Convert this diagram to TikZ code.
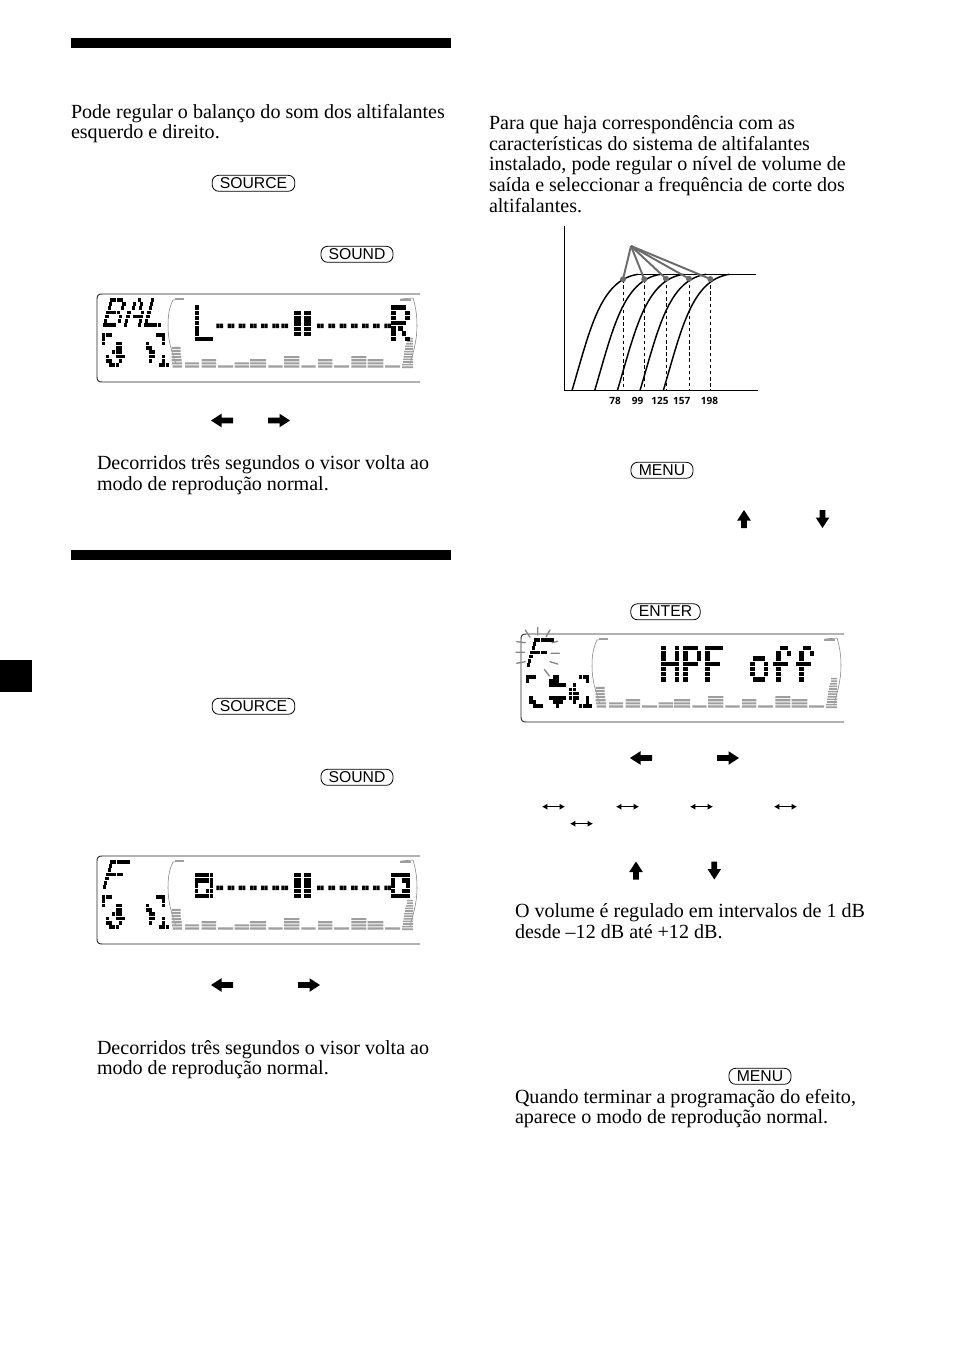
\documentclass[tikz,border=0pt]{standalone}
\usepackage{fontspec}
\setmainfont{Liberation Serif}
\newfontfamily\btnfont{Liberation Sans}
\newfontfamily\chartfont{Open Sans}
\usetikzlibrary{arrows.meta}
\definecolor{lcdgray}{gray}{0.62}
\definecolor{raygray}{gray}{0.42}
\tikzset{
  txt/.style={anchor=base west,inner sep=0pt,outer sep=0pt,font=\fontsize{15.05}{18}\selectfont},
  btn/.style={draw,line width=0.6pt,rounded corners=5pt,inner sep=0pt,minimum height=12pt,text height=7.5pt,text depth=0pt,font=\btnfont\fontsize{11.8}{12}\selectfont},
  tickl/.style={inner sep=0pt,font=\chartfont\bfseries\fontsize{7.5}{8}\selectfont},
  framepath/.style={line width=0.7pt,draw=black!85},
  lcdinner/.style={line width=0.4pt,draw=lcdgray!80!black},
  rayline/.style={line width=1pt,draw=lcdgray!85!black,line cap=round},
  curveline/.style={line width=1.1pt,draw=black},
  fanline/.style={line width=1.45pt,draw=raygray},
  dashline/.style={line width=0.55pt,draw=black,dash pattern=on 2.6pt off 2pt},
}
% bitmap: x y px py slant {rows}
\newcount\bmpcol
\newcount\bmprowno
\def\bmpWf{0.96}
\def\bmpscan#1{\ifx#1.\else\ifx#11\fill ({\bmpX+\the\bmpcol*\bmpPx+(\bmpN-\the\bmprowno)*\bmpPy*\bmpS},{\bmpY+\the\bmprowno*\bmpPy}) rectangle +({\bmpPx*\bmpWf},{\bmpPy*0.86});\fi\global\advance\bmpcol by 1 \expandafter\bmpscan\fi}
\newcommand\bmp[7]{\def\bmpX{#1}\def\bmpY{#2}\def\bmpPx{#3}\def\bmpPy{#4}\def\bmpS{#5}\def\bmpN{#6}%
  \global\bmprowno=0
  \foreach \rw in {#7}{\global\bmpcol=0 \expandafter\bmpscan\rw.\global\advance\bmprowno by 1 }}
\newcommand\bigglyph[3]{{\def\bmpWf{1.38}\bmp{#1}{#2}{3.4}{5.2}{0}{6}{#3}}}
% LCD frame with equaliser, in coordinates relative to top left
\newcommand\lcdframe{%
  \draw[framepath] (323,0) -- (5,0) .. controls (1.5,0) and (0,1.5) .. (0,5) -- (0,83) .. controls (0,86.5) and (1.5,88) .. (5,88) -- (323,88);
  \draw[lcdinner] (76,6) .. controls (72,14) and (71,22) .. (71,32) .. controls (71,45) and (74,56) .. (79,70);
  \draw[lcdinner] (316,4) .. controls (319,14) and (320,22) .. (320,32) .. controls (320,45) and (317,56) .. (313,70);
  \draw[lcdinner] (76,6) -- (85,5);
  \draw[lcdinner] (304,5) -- (316,4);
  \fill[lcdgray] (78,3.5) rectangle (87,5.5);
  \fill[lcdgray] (303,5) rectangle (314,7);
  \fill[lcdgray] foreach \xx/\ww/\nn in {88/14/2,104.5/14.5/3,121/15/1,137.7/14.5/2,153/16/3,171.3/14.4/1,187/15.3/4,204.3/14.3/1,221/14.3/3,237/15/1,254.3/15/4,270.7/15.6/3,288/15/1}{
     foreach \kk in {1,...,\nn}{ (\xx,{74.5-3.1*\kk}) rectangle +(\ww,2.1) } };
  \fill[lcdgray] foreach \kk/\xa/\xb in {1/75.5/85,2/75/85,3/74.5/84.5,4/74.5/84,5/74.5/83.5,6/74.5/83.5,7/74.5/83.5}{ (\xa,{74.5-3.1*\kk}) rectangle (\xb,{74.5-3.1*\kk+2.1}) };
  \fill[lcdgray] foreach \kk/\xa/\xb in {1/305/316,2/305/316,3/306/316,4/306/316,5/306.5/316,6/307/316,7/307/316,8/308/316,9/308/316,10/309/316,11/310/316,12/310/316}{ (\xa,{75-2.6*\kk}) rectangle (\xb,{75-2.6*\kk+1.6}) };
}
\newcommand\dashes{%
  \fill foreach \xx in {119.3,130.7,141.7,153,164,175.3,184.3,220,231.3,242.7,254,265,276,287.3}{ (\xx,29.5) rectangle +(3.1,4.6) ({\xx+3.6},29.5) rectangle +(3.1,4.6) };
  \bmp{196.5}{17}{3.6}{5.2}{0}{0}{11011,11011,11011,11011,11011}
}
\newcommand\speakers{\bmp{5.3}{39}{3.33}{4.3}{0}{0}{11100000000000001110,10000000000000000010,10001100000001000010,00001100000001100000,00011100000000110000,01001110000000110010,01100100000000100010,00111000000000000111}}
\newcommand\fatarrow[4]{\fill[shift={(#1,#2)},rotate=#3] (-#4,-2.9) -- ({#4-10.5},-2.9) -- ({#4-10.5},-6.8) -- (#4,0) -- ({#4-10.5},6.8) -- ({#4-10.5},2.9) -- (-#4,2.9) -- cycle;}
\newcommand\thinarrow[2]{\draw[line width=0.65pt,{Latex[length=4pt,width=4.6pt]}-{Latex[length=4pt,width=4.6pt]}] ({#1-11.5},#2) -- ({#1+11.5},#2);}
\begin{document}
\begin{tikzpicture}[x=0.75pt,y=-0.75pt]
\useasboundingbox (0,0) rectangle (954,1352);
\fill[white] (0,0) rectangle (954,1352);
% bars and tab
\fill (71,38) rectangle (451,48);
\fill (71,550) rectangle (451,560);
\fill (0,660) rectangle (32,692);
% left column text
\node[txt] (t1) at (71,119) {Pode regular o balanço do som dos altifalantes};
\node[txt] (t2) at (71,139) {esquerdo e direito.};
\node[btn,minimum width=62pt] (b1) at (253.5,183.3) {SOURCE};
\node[btn,minimum width=54pt] (b2) at (357,254.3) {SOUND};
\begin{scope}[shift={(97,294)}]
  \lcdframe
  \bmp{6}{4}{3.4}{4.2}{0.27}{6}{11110,10001,10001,11110,10001,10001,11110}
  \bmp{27}{4}{3.4}{4.2}{0.27}{6}{00100,01010,01010,10001,10111,10001,10001}
  \bmp{47}{4}{3.4}{4.2}{0.27}{6}{10000,10000,10000,10000,10000,10000,11111}
  \speakers
  \dashes
  \bigglyph{97.7}{11.3}{10000,10000,10000,10000,10000,10000,11111}
  \bigglyph{294.3}{11.3}{11110,10001,10001,11110,10100,10010,10001}
\end{scope}
\fatarrow{222}{420.5}{180}{11}
\fatarrow{279}{420.5}{0}{11}
\node[txt] (t3) at (97,469) {Decorridos três segundos o visor volta ao};
\node[txt] (t4) at (97,490) {modo de reprodução normal.};
\node[btn,minimum width=62pt] (b3) at (253.5,706.3) {SOURCE};
\node[btn,minimum width=54pt] (b4) at (357,777.3) {SOUND};
\begin{scope}[shift={(97,856)}]
  \lcdframe
  \bmp{6}{4}{3.4}{4.2}{0.27}{6}{111111,100000,100000,111110,100000,100000,100000}
  \speakers
  \dashes
  \bmp{97.7}{17}{3.7}{5.2}{0}{0}{11111,11111,10001,10011,11111}
  \bmp{294.3}{17}{3.7}{5.2}{0}{0}{11111,10011,10001,10011,11111}
\end{scope}
\fatarrow{222}{985}{180}{11}
\fatarrow{309}{985}{0}{11}
\node[txt] (t5) at (97,1054) {Decorridos três segundos o visor volta ao};
\node[txt] (t6) at (97,1074) {modo de reprodução normal.};
% right column text
\node[txt] (t7) at (489,130) {Para que haja correspondência com as};
\node[txt] (t8) at (489,150.5) {características do sistema de altifalantes};
\node[txt] (t9) at (489,171) {instalado, pode regular o nível de volume de};
\node[txt] (t10) at (489,191.5) {saída e seleccionar a frequência de corte dos};
\node[txt] (t11) at (489,212) {altifalantes.};
% chart
\draw[line width=0.85pt] (564.3,226) -- (564.3,390.7) -- (757.5,390.7);
\foreach \dd in {0,22.7,45.4,68,91.3}{
  \draw[curveline] ({572+\dd},390.5) .. controls ({590+\dd},330) and ({600+\dd},280) .. ({638+\dd},274.3);
}
\draw[curveline] (638,274.3) -- (756,274.3);
\foreach \xx/\yy in {623/279.3,644.3/279.3,666/278.7,689/278.7,710.3/279}{
  \draw[dashline] (\xx,\yy) -- (\xx,390.5);
  \draw[fanline] (631,246) -- (\xx,\yy);
  \fill[raygray] (\xx,\yy) circle (3);
}
\node[tickl] (c1) at (615,401) {78};
\node[tickl] (c2) at (637.5,401) {99};
\node[tickl] (c3) at (660,401) {125};
\node[tickl] (c4) at (681.7,401) {157};
\node[tickl] (c5) at (709.5,401) {198};
\node[btn,minimum width=46.5pt] (b5) at (662,470.3) {MENU};
\fatarrow{744}{519}{90}{9}
\fatarrow{822.5}{519}{-90}{9}
\node[btn,minimum width=52pt] (b6) at (665.5,611.8) {ENTER};
\begin{scope}[shift={(521,634)}]
  \lcdframe
  \bmp{6}{4}{3.4}{4.2}{0.27}{6}{111111,100000,100000,111110,100000,100000,100000}
  \bmp{5}{41}{3.33}{4.2}{0}{0}{11100000110000001110,10000001110000000010,00000001111100100000,00000000000001100000,00000000000001110000,01000001111101110010,01100000111000100010,00111000010000001111}
  \bigglyph{140}{12}{10001,10001,10001,11111,10001,10001,10001}
  \bigglyph{162}{12}{11110,10001,10001,11110,10000,10000,10000}
  \bigglyph{184}{12}{11111,10000,10000,11110,10000,10000,10000}
  \bigglyph{229}{12}{00000,00000,01110,10001,10001,10001,01110}
  \bigglyph{252}{12}{00110,01001,01000,11110,01000,01000,01000}
  \bigglyph{275}{12}{00110,01001,01000,11110,01000,01000,01000}
  \draw[rayline] foreach \pa/\pb/\qa/\qb in {4.3/-4/9/3.3,16.7/-6.7/16.7/1,29/-4/25/2.7,31/8.7/36.7/7.3,30/19.3/38.3/19.3,29/27.7/36.7/30,23.3/35.3/28.3/42,-4.3/7.7/4.3/8.7,-5/18.3/3.3/18.3,-4.3/29.3/4.3/27.7}{ (\pa,\pb) -- (\qa,\qb) };
\end{scope}
\fatarrow{641}{758}{180}{11}
\fatarrow{728}{758}{0}{11}
\thinarrow{553.5}{806.7}
\thinarrow{627.5}{806.7}
\thinarrow{701.5}{806.7}
\thinarrow{785.5}{806.7}
\thinarrow{581.5}{823.7}
\fatarrow{636}{870.5}{90}{9}
\fatarrow{714.3}{870.5}{-90}{9}
\node[txt] (t12) at (515,917.5) {O volume é regulado em intervalos de 1 dB};
\node[txt] (t13) at (515,938.5) {desde –12 dB até +12 dB.};
\node[btn,minimum width=46.5pt] (b7) at (760,1076.3) {MENU};
\node[txt] (t14) at (515,1103.5) {Quando terminar a programação do efeito,};
\node[txt] (t15) at (515,1123.5) {aparece o modo de reprodução normal.};
\end{tikzpicture}
\end{document}
